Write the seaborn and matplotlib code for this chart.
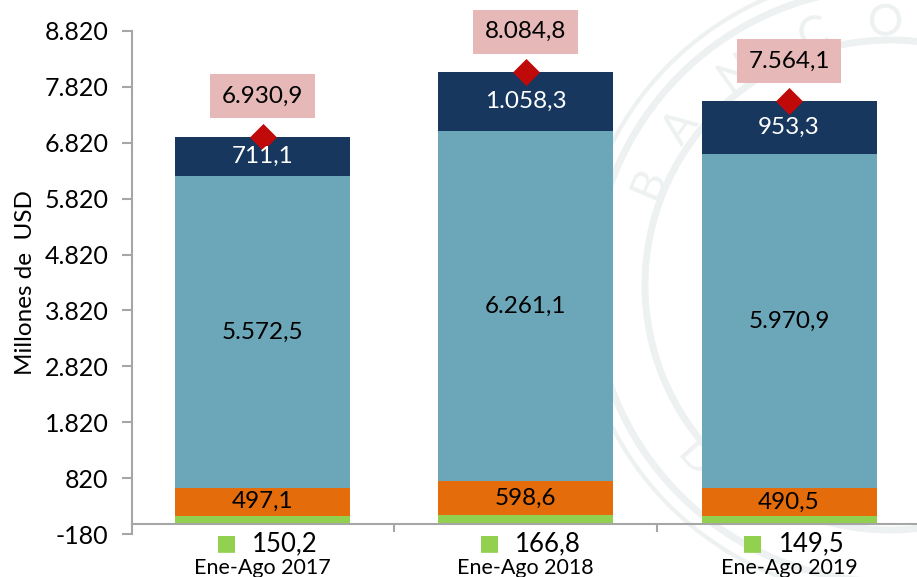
import numpy as np
import pandas as pd
import seaborn as sns
import matplotlib.pyplot as plt
from matplotlib.patches import Circle

periodos = ["Ene-Ago 2017", "Ene-Ago 2018", "Ene-Ago 2019"]
verde = [150.2, 166.8, 149.5]
naranja = [497.1, 598.6, 490.5]
celeste = [5572.5, 6261.1, 5970.9]
azul = [711.1, 1058.3, 953.3]
totales = [6930.9, 8084.8, 7564.1]

verde_txt = ["150,2", "166,8", "149,5"]
naranja_txt = ["497,1", "598,6", "490,5"]
celeste_txt = ["5.572,5", "6.261,1", "5.970,9"]
azul_txt = ["711,1", "1.058,3", "953,3"]
totales_txt = ["6.930,9", "8.084,8", "7.564,1"]
y_ticks = [-180, 820, 1820, 2820, 3820, 4820, 5820, 6820, 7820, 8820]
y_labels = ["-180", "820", "1.820", "2.820", "3.820", "4.820", "5.820", "6.820", "7.820", "8.820"]

sns.set_theme(style="white")
plt.rcParams["font.family"] = ["Lato", "DejaVu Sans"]

fig = plt.figure(figsize=(9.17, 5.77), dpi=100)

# sello de fondo
bg = fig.add_axes([0, 0, 1, 1], zorder=0)
bg.set_xlim(0, 917)
bg.set_ylim(577, 0)
bg.axis("off")
sello = "#eef1f1"
for r, lw in [(312, 3), (297, 5), (245, 5)]:
    bg.add_patch(Circle((890, 285), r, fill=False, ec=sello, lw=lw))
for letra, ang in [("B", 203), ("A", 217), ("N", 234), ("C", 253), ("O", 269)]:
    a = np.deg2rad(ang)
    bg.text(890 + 262 * np.cos(a), 285 + 262 * np.sin(a), letra, color=sello, fontsize=32,
            ha="center", va="center", rotation=270 - ang)
for letra, ang in [("D", 138), ("E", 124)]:
    a = np.deg2rad(ang)
    bg.text(890 + 262 * np.cos(a), 285 + 262 * np.sin(a), letra, color=sello, fontsize=32,
            ha="center", va="center", rotation=90 - ang)

ax = fig.add_axes([132 / 917, 43 / 577, 785 / 917, 503 / 577], zorder=1)
ax.patch.set_alpha(0)

df = pd.DataFrame({"periodo": periodos, "verde": verde, "naranja": naranja,
                   "celeste": celeste, "azul": azul, "total": totales})

base = np.zeros(3)
for col, color in [("verde", "#92D050"), ("naranja", "#E46C0A"), ("celeste", "#6CA7B9"), ("azul", "#17375E")]:
    sns.barplot(data=df, x="periodo", y=col, color=color, width=0.665, bottom=base,
                saturation=1, linewidth=0, ax=ax)
    base = base + df[col].values

sns.scatterplot(data=df, x="periodo", y="total", marker="D", s=190, color="#C00A0A",
                linewidth=0, zorder=5, ax=ax)

ax.set_xlim(-0.4957, 2.486)
ax.set_ylim(-180, 8820)
ax.set_yticks(y_ticks)
ax.set_yticklabels(y_labels, fontsize=18, color="black")
ax.set_ylabel("Millones de  USD", fontsize=17.5, color="black", labelpad=6)
ax.set_xlabel("")

ax.spines["top"].set_visible(False)
ax.spines["right"].set_visible(False)
ax.spines["left"].set_color("#a6a6a6")
ax.spines["left"].set_linewidth(1.5)
ax.spines["bottom"].set_color("#a6a6a6")
ax.spines["bottom"].set_linewidth(1.5)
ax.spines["bottom"].set_position(("data", 0))

ax.tick_params(axis="y", left=True, length=7, width=1.5, color="#a6a6a6", pad=10)
ax.set_xticks([0, 1, 2])
ax.set_xticklabels(periodos, fontsize=15.5, color="black")
ax.tick_params(axis="x", which="major", bottom=False, pad=18.5)
ax.set_xticks([0.5, 1.5], minor=True)
ax.tick_params(axis="x", which="minor", bottom=True, length=6, width=1.5, color="#a6a6a6")

for i in range(3):
    y0 = verde[i]
    ax.text(i, y0 + naranja[i] / 2, naranja_txt[i], ha="center", va="center", fontsize=17.5, color="black", zorder=6)
    y1 = y0 + naranja[i]
    ax.text(i, y1 + celeste[i] / 2, celeste_txt[i], ha="center", va="center", fontsize=17.5, color="black", zorder=6)
    y2 = y1 + celeste[i]
    ax.text(i, y2 + azul[i] / 2, azul_txt[i], ha="center", va="center", fontsize=17.5, color="white", zorder=6)
    ax.annotate(totales_txt[i], (i, totales[i]), xytext=(0, 29), textcoords="offset points",
                ha="center", va="center", fontsize=17.5, color="black",
                bbox=dict(boxstyle="square,pad=0.48", fc="#E6B8B7", ec="none"))
    ax.annotate(verde_txt[i], (i, 0), xytext=(16, -14), textcoords="offset points",
                ha="center", va="center", fontsize=18.5, color="black", annotation_clip=False)
    ax.annotate("■", (i, 0), xytext=(-26, -14), textcoords="offset points", family="DejaVu Sans",
                ha="center", va="center", fontsize=16, color="#92D050", annotation_clip=False)

fig.savefig("out.png", dpi=100)
